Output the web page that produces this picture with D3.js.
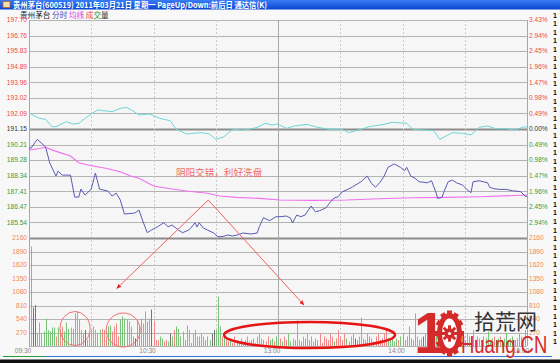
<!DOCTYPE html>
<html>
<head>
<meta charset="utf-8">
<script src="https://cdn.jsdelivr.net/npm/d3@7"></script>
<style>
body { margin: 0; background: #f8f8f8; }
svg { display: block; }
</style>
</head>
<body>
<script>
var width = 560, height = 363;

// axis labels
var preClose = 191.15;
var priceTicks = [197.70, 196.76, 195.83, 194.89, 193.96, 193.02, 192.09, 191.15, 190.21, 189.28, 188.34, 187.41, 186.47, 185.54];
var pctTicks = ["3.43%", "2.94%", "2.45%", "1.96%", "1.47%", "0.98%", "0.49%", "0.00%", "0.49%", "0.98%", "1.47%", "1.96%", "2.45%", "2.94%"];
var volTicks = [2160, 1890, 1620, 1350, 1080, 810, 540, 270];
var timeLabels = ["09:30", "10:30", "13:00", "14:00", "15:00"];
var timeLabelMinutes = [0, 60, 120, 180, 240];

// price line (minute index, price)
var priceMinutes = [0, 1, 4, 8, 10, 13, 14, 16, 20, 22, 24, 25, 27, 30, 32, 34, 38, 40, 42, 44, 46, 51, 53, 55, 57, 59, 62, 65, 67, 69, 72, 74, 77, 78, 80, 81, 82, 84, 86, 89, 91, 93, 96, 98, 101, 103, 107, 110, 111, 113, 116, 119, 121, 124, 126, 127, 129, 131, 133, 136, 138, 140, 143, 145, 147, 149, 151, 154, 156, 160, 163, 165, 167, 169, 171, 173, 176, 179, 181, 182, 184, 186, 188, 192, 194, 196, 197, 199, 200, 202, 204, 206, 209, 211, 213, 214, 217, 221, 222, 224, 227, 230, 233, 237, 239, 240];
var priceValues = [190.01, 190.00, 190.53, 190.07, 189.11, 188.32, 188.62, 188.38, 188.38, 187.06, 187.06, 187.54, 187.18, 187.54, 188.50, 187.54, 187.42, 187.12, 187.30, 186.88, 186.04, 186.10, 186.28, 185.56, 184.92, 185.08, 185.28, 185.52, 185.28, 185.38, 185.08, 184.92, 185.08, 185.20, 185.52, 185.26, 185.52, 185.20, 185.08, 184.90, 184.68, 184.68, 184.78, 184.72, 184.80, 184.90, 184.84, 184.90, 185.28, 185.82, 185.64, 185.88, 185.88, 185.92, 185.80, 185.50, 185.98, 185.88, 185.98, 186.52, 186.18, 186.24, 186.40, 186.72, 187.00, 187.08, 187.38, 187.54, 187.68, 187.98, 188.32, 187.89, 187.65, 187.92, 188.28, 188.85, 189.05, 188.85, 188.64, 188.85, 188.32, 188.19, 187.98, 187.92, 188.04, 187.38, 186.98, 187.04, 187.38, 187.98, 188.08, 187.92, 187.78, 187.52, 187.32, 187.98, 188.04, 187.92, 187.65, 187.56, 187.52, 187.52, 187.44, 187.38, 187.12, 187.10];

// average price line
var avgMinutes = [0, 1, 8, 12, 20, 24, 29, 37, 44, 49, 53, 60, 68, 76, 86, 92, 100, 111, 121, 137, 153, 169, 185, 201, 217, 240];
var avgValues = [189.95, 189.89, 190.05, 189.85, 189.53, 189.12, 188.97, 188.79, 188.58, 188.32, 188.19, 187.72, 187.56, 187.42, 187.29, 187.12, 187.04, 186.98, 186.88, 186.86, 186.88, 186.96, 187.02, 187.04, 187.08, 187.18];

// cyan line
var leadMinutes = [0, 1, 5, 8, 11, 13, 18, 21, 24, 27, 30, 33, 36, 40, 44, 47, 50, 53, 58, 63, 68, 71, 76, 79, 83, 87, 90, 94, 98, 102, 106, 110, 114, 117, 120, 124, 128, 134, 139, 145, 151, 154, 160, 164, 171, 175, 182, 185, 190, 195, 198, 201, 204, 209, 213, 217, 221, 225, 230, 234, 239, 240];
var leadValues = [192.10, 192.05, 191.79, 191.73, 191.29, 191.29, 191.59, 191.45, 191.49, 191.79, 192.05, 192.29, 192.25, 192.19, 192.39, 192.45, 192.25, 191.99, 192.05, 191.79, 191.65, 191.13, 190.85, 190.89, 190.93, 190.85, 190.53, 190.69, 191.13, 191.09, 191.13, 191.25, 191.49, 191.39, 191.45, 191.19, 191.33, 191.43, 191.25, 191.13, 191.13, 190.93, 191.13, 191.29, 191.43, 191.55, 191.49, 191.13, 191.09, 191.05, 190.53, 190.73, 190.93, 190.89, 190.79, 191.25, 191.33, 191.17, 191.17, 191.09, 191.29, 191.25];

// volume per minute, 241 bars
var volumes = [
    440, 1990, 770, 820, 250, 470, 250, 290, 550, 320, 290, 370, 370, 190, 370, 320, 390, 290, 470, 340,
    370, 340, 650, 690, 520, 320, 250, 320, 120, 250, 320, 390, 320, 250, 320, 340, 320, 190, 390, 410,
    290, 390, 450, 190, 520, 590, 550, 520, 490, 390, 190, 150, 520, 390, 550, 450, 690, 490, 550, 730,
    490, 120, 120, 190, 150, 90, 120, 90, 250, 190, 320, 390, 340, 190, 290, 120, 410, 320, 60, 250,
    320, 190, 190, 250, 190, 120, 190, 120, 250, 320, 320, 990, 390, 190, 250, 120, 90, 150, 60, 190,
    120, 90, 150, 60, 120, 190, 90, 120, 150, 60, 190, 250, 150, 120, 90, 190, 120, 150, 90, 190,
    120, 150, 90, 190, 120, 250, 90, 150, 120, 510, 120, 90, 190, 150, 250, 120, 190, 90, 150, 120,
    250, 60, 190, 150, 120, 250, 190, 90, 150, 320, 190, 120, 250, 150, 90, 190, 250, 150, 120, 190,
    570, 150, 120, 250, 190, 150, 90, 190, 250, 120, 150, 250, 320, 150, 120, 190, 90, 150, 120, 190,
    250, 120, 190, 390, 150, 120, 650, 190, 120, 150, 190, 250, 120, 150, 120, 190, 250, 150, 120, 190,
    250, 120, 150, 190, 120, 250, 150, 120, 190, 150, 120, 250, 190, 150, 320, 120, 190, 150, 120, 190,
    150, 290, 120, 150, 190, 120, 150, 190, 120, 150, 260, 120, 150, 190, 120, 150, 250, 190, 150, 320,
    450
];
// tick direction of each minute: u = up (red), d = down (green), f = flat (gray)
var volumeDirs = [
    "udffudud", "ddddd", "uduu", "ddd",
    "udduuudfuuuuuuduuudd",
    "uuuudddduuufdddddduf",
    "uuudduudfduddduuduud",
    "dududdddffddduduuduu",
    "uduud", "uudud", "uuudu", "uddud",
    "duduu", "ddudu", "uduuu", "duddu",
    "uuuuu", "uuduu", "uuudu", "uufuu",
    "uuddd", "uuuuu", "uuudd", "dddud",
    "duddd", "ddudd", "fdudd", "dduuu",
    "ududu", "dddud", "duudu", "uddud",
    "ddddu", "ddudd", "ddddd", "ddudd", "d"
].join("").split("");

var svg = d3.select("body").append("svg")
    .attr("width", width)
    .attr("height", height);

var x = d3.scaleLinear().domain([0, 240]).range([29, 527]);
var yPrice = d3.scaleLinear().domain([2 * preClose - priceTicks[0], priceTicks[0]]).range([238, 20]);
var yVol = d3.scaleLinear().domain([0, volTicks[0]]).range([346, 238]);

var redText = "#f04848", greenText = "#3a9a3a", orangeText = "#f08850";
var numFont = "'Liberation Sans', Arial, sans-serif";
var cjkFont = "'Noto Sans CJK SC', sans-serif";

// background
svg.append("rect").attr("width", width).attr("height", height).attr("fill", "#f8f8f8");
svg.append("rect")
    .attr("x", x(0)).attr("y", yPrice(priceTicks[0]))
    .attr("width", x(240) - x(0)).attr("height", yVol(0) - yPrice(priceTicks[0]))
    .attr("fill", "#f6f6f6");

// title bar
var defs = svg.append("defs");
var grad = defs.append("linearGradient").attr("id", "titleGrad").attr("x1", 0).attr("y1", 0).attr("x2", 0).attr("y2", 1);
grad.append("stop").attr("offset", "0%").attr("stop-color", "#3a7cf4");
grad.append("stop").attr("offset", "100%").attr("stop-color", "#0846d4");
svg.append("rect").attr("x", 0).attr("y", 0).attr("width", width).attr("height", 9.5).attr("fill", "url(#titleGrad)");
svg.append("rect").attr("x", 3).attr("y", 1.5).attr("width", 7).attr("height", 6).attr("fill", "#f0e0b0").attr("stroke", "#c06020").attr("stroke-width", 0.8);
svg.append("text")
    .attr("x", 13).attr("y", 7.8)
    .attr("font-family", cjkFont).attr("font-size", 8).attr("font-weight", "bold")
    .attr("fill", "#ffffff")
    .attr("textLength", 254).attr("lengthAdjust", "spacingAndGlyphs")
    .text("贵州茅台(600519) 2011年03月21日 星期一 PageUp/Down:前后日 通达信(K)");

// legend
var legend = svg.append("text").attr("x", 20).attr("y", 18.2)
    .attr("font-family", cjkFont).attr("font-size", 7.6);
legend.append("tspan").attr("fill", "#202020").text("贵州茅台 ");
legend.append("tspan").attr("fill", "#4848c0").text("分时 ");
legend.append("tspan").attr("fill", "#e040e0").text("均线 ");
legend.append("tspan").attr("fill", "#f04040").text("成");
legend.append("tspan").attr("fill", "#2a9a2a").text("交");
legend.append("tspan").attr("fill", "#303030").text("量");

// horizontal grid, price panel
svg.selectAll("line.pgrid")
    .data(priceTicks)
    .enter()
    .append("line")
    .attr("class", "pgrid")
    .attr("x1", x(0)).attr("x2", x(240))
    .attr("y1", function (d) { return Math.round(yPrice(d)) + 0.5; })
    .attr("y2", function (d) { return Math.round(yPrice(d)) + 0.5; })
    .attr("stroke", function (d) { return d == preClose ? "#8c8c8c" : "#b4b4b4"; })
    .attr("stroke-width", function (d) { return d == preClose ? 2 : 1; });

// horizontal grid, volume panel
svg.selectAll("line.vgrid")
    .data(volTicks.concat([0]))
    .enter()
    .append("line")
    .attr("class", "vgrid")
    .attr("x1", x(0)).attr("x2", x(240))
    .attr("y1", function (d) { return Math.round(yVol(d)) + 0.5; })
    .attr("y2", function (d) { return Math.round(yVol(d)) + 0.5; })
    .attr("stroke", function (d) { return d == volTicks[0] ? "#8c8c8c" : "#b4b4b4"; })
    .attr("stroke-width", function (d) { return d == volTicks[0] ? 2 : 1; });

// vertical grid
var gridMinutes = [0, 30, 60, 90, 120, 150, 180, 210, 240];
svg.selectAll("line.tgrid")
    .data(gridMinutes)
    .enter()
    .append("line")
    .attr("class", "tgrid")
    .attr("x1", function (d) { return Math.round(x(d)) + 0.5; })
    .attr("x2", function (d) { return Math.round(x(d)) + 0.5; })
    .attr("y1", yPrice(priceTicks[0])).attr("y2", yVol(0))
    .attr("stroke", function (d) { return (d % 120 == 0) ? "#a8a8a8" : "#cacaca"; })
    .attr("stroke-dasharray", function (d) { return (d % 120 == 0) ? null : "2,2"; });

// left / right price labels
function priceColor(d) {
    if (d > preClose) { return redText; }
    if (d < preClose) { return greenText; }
    return "#333333";
}

svg.selectAll("text.pl")
    .data(priceTicks)
    .enter()
    .append("text")
    .attr("class", "pl")
    .attr("x", 27).attr("y", function (d) { return yPrice(d) + 2.3; })
    .attr("text-anchor", "end")
    .attr("font-family", numFont).attr("font-size", 6.6)
    .attr("fill", priceColor)
    .text(function (d) { return d.toFixed(2); });

svg.selectAll("text.pr")
    .data(pctTicks)
    .enter()
    .append("text")
    .attr("class", "pr")
    .attr("x", 529).attr("y", function (d, i) { return yPrice(priceTicks[i]) + 2.3; })
    .attr("font-family", numFont).attr("font-size", 6.6)
    .attr("fill", function (d, i) { return priceColor(priceTicks[i]); })
    .text(function (d) { return d; });

// volume labels
svg.selectAll("text.vl")
    .data(volTicks)
    .enter()
    .append("text")
    .attr("class", "vl")
    .attr("x", 27).attr("y", function (d) { return yVol(d) + 2.3; })
    .attr("text-anchor", "end")
    .attr("font-family", numFont).attr("font-size", 6.6)
    .attr("fill", orangeText)
    .text(function (d) { return d; });

svg.selectAll("text.vr")
    .data(volTicks)
    .enter()
    .append("text")
    .attr("class", "vr")
    .attr("x", 529).attr("y", function (d) { return yVol(d) + 2.3; })
    .attr("font-family", numFont).attr("font-size", 6.6)
    .attr("fill", orangeText)
    .text(function (d) { return d; });

// time labels
svg.selectAll("text.tl")
    .data(timeLabels)
    .enter()
    .append("text")
    .attr("class", "tl")
    .attr("x", function (d, i) { return x(timeLabelMinutes[i]) - 6; })
    .attr("y", 353)
    .attr("text-anchor", "middle")
    .attr("font-family", numFont).attr("font-size", 6.6)
    .attr("fill", "#8a8a8a")
    .text(function (d) { return d; });

// volume bars
var dirColor = { u: "#f08a8a", d: "#78c478", f: "#767676" };
svg.selectAll("line.bar")
    .data(volumes)
    .enter()
    .append("line")
    .attr("class", "bar")
    .attr("x1", function (d, i) { return Math.round(x(i)) + 0.5; })
    .attr("x2", function (d, i) { return Math.round(x(i)) + 0.5; })
    .attr("y1", yVol(0))
    .attr("y2", function (d) { return yVol(d); })
    .attr("stroke", function (d, i) { return dirColor[volumeDirs[i]] || dirColor.d; })
    .attr("stroke-width", 1);

// lines
function zip(ms, vs) {
    return ms.map(function (m, i) { return [m, vs[i]]; });
}
var line = d3.line()
    .x(function (d) { return x(d[0]); })
    .y(function (d) { return yPrice(d[1]); });

svg.append("path").datum(zip(leadMinutes, leadValues))
    .attr("d", line).attr("fill", "none").attr("stroke", "#6ed6d6").attr("stroke-width", 1);
svg.append("path").datum(zip(avgMinutes, avgValues))
    .attr("d", line).attr("fill", "none").attr("stroke", "#f070f0").attr("stroke-width", 1.1);
svg.append("path").datum(zip(priceMinutes, priceValues))
    .attr("d", line).attr("fill", "none").attr("stroke", "#5a5ab4").attr("stroke-width", 1);

// hand-drawn annotations
var annoColor = "#f06060";
defs.append("marker")
    .attr("id", "arrow").attr("viewBox", "0 0 10 10")
    .attr("refX", 9).attr("refY", 5)
    .attr("markerWidth", 5).attr("markerHeight", 5)
    .attr("orient", "auto")
    .append("path").attr("d", "M0,1 L10,5 L0,9 Z").attr("fill", "#e82020");

var apex = [x(86.4), yPrice(186.88)];
svg.append("line")
    .attr("x1", apex[0]).attr("y1", apex[1])
    .attr("x2", x(42.3)).attr("y2", yVol(1150))
    .attr("stroke", annoColor).attr("stroke-width", 1)
    .attr("marker-end", "url(#arrow)");
svg.append("line")
    .attr("x1", apex[0]).attr("y1", apex[1])
    .attr("x2", x(132.5)).attr("y2", yVol(820))
    .attr("stroke", annoColor).attr("stroke-width", 1)
    .attr("marker-end", "url(#arrow)");

svg.append("text")
    .attr("x", x(70.8)).attr("y", yPrice(188.32))
    .attr("font-family", cjkFont).attr("font-size", 9.6)
    .attr("fill", "#f06a6a")
    .text("阴阳交错，利好洗盘");

svg.append("ellipse")
    .attr("cx", x(22.2)).attr("cy", yVol(350))
    .attr("rx", 15).attr("ry", 17)
    .attr("fill", "none").attr("stroke", "#f07070").attr("stroke-width", 1);
svg.append("ellipse")
    .attr("cx", x(45.4)).attr("cy", yVol(320))
    .attr("rx", 17).attr("ry", 17)
    .attr("fill", "none").attr("stroke", "#f07070").attr("stroke-width", 1);
svg.append("ellipse")
    .attr("cx", x(135.2)).attr("cy", yVol(220))
    .attr("rx", 85.5).attr("ry", 13)
    .attr("fill", "none").attr("stroke", "#e81414").attr("stroke-width", 2.5);

// bottom bars
svg.append("line").attr("x1", 3).attr("x2", 46).attr("y1", 356.5).attr("y2", 356.5).attr("stroke", "#2a9a3a").attr("stroke-width", 1.2);
svg.append("line").attr("x1", 46).attr("x2", 552).attr("y1", 356.5).attr("y2", 356.5).attr("stroke", "#3a70d8").attr("stroke-width", 1.2);
svg.append("rect").attr("x", 0).attr("y", 359.5).attr("width", width).attr("height", 4).attr("fill", "#101010");

// clipped side panel column
var sideRows = d3.range(15, 350, 8.6);
svg.selectAll("text.side")
    .data(sideRows)
    .enter()
    .append("text")
    .attr("class", "side")
    .attr("x", 553).attr("y", function (d) { return d + 2.6; })
    .attr("font-family", numFont).attr("font-size", 7).attr("font-weight", "bold")
    .attr("fill", "#111111")
    .text("1");

// watermark
var wm = svg.append("g");
wm.append("text")
    .attr("x", 414).attr("y", 353)
    .attr("font-family", numFont).attr("font-size", 57).attr("font-weight", "bold")
    .attr("fill", "#d42a2a")
    .text("1");
var gear = wm.append("g").attr("transform", "translate(449.5,333.5)");
d3.range(0, 360, 30).forEach(function (a) {
    var r = a * Math.PI / 180;
    gear.append("rect")
        .attr("x", -2.5).attr("y", -2.5).attr("width", 5).attr("height", 5)
        .attr("fill", "#d42a2a")
        .attr("transform", "translate(" + (Math.cos(r) * 12) + "," + (Math.sin(r) * 20.5) + ") rotate(" + a + ")");
});
gear.append("ellipse").attr("rx", 12.5).attr("ry", 20.5).attr("fill", "#d42a2a");
gear.append("ellipse").attr("rx", 7.5).attr("ry", 15).attr("fill", "#ffffff");
d3.range(0, 360, 45).forEach(function (a) {
    gear.append("rect")
        .attr("x", -1.3).attr("y", -8).attr("width", 2.6).attr("height", 16)
        .attr("fill", "#d42a2a")
        .attr("transform", "rotate(" + a + ")");
});
gear.append("circle").attr("r", 5.2).attr("fill", "#d42a2a");
gear.append("circle").attr("r", 1.6).attr("fill", "#ffffff");

wm.append("text")
    .attr("x", 474).attr("y", 329)
    .attr("font-family", cjkFont).attr("font-size", 21)
    .attr("fill", "#333333")
    .text("拾荒网");
wm.append("g")
    .attr("transform", "translate(461,353) scale(0.77,1)")
    .append("text")
    .attr("x", 0).attr("y", 0)
    .attr("font-family", numFont).attr("font-size", 24)
    .attr("fill", "#d42a2a")
    .text("Huang.CN");
</script>
</body>
</html>
